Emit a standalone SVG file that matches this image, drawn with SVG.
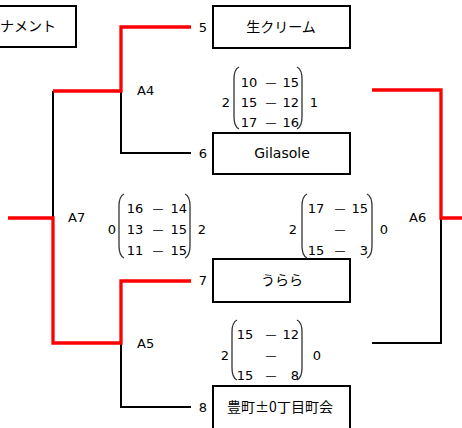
<svg xmlns="http://www.w3.org/2000/svg" width="462" height="428" viewBox="0 0 462 428">
<style>
.box{fill:#fff;stroke:#000;stroke-width:2}
.red{fill:none;stroke:#f00;stroke-width:3.3}
.blk{fill:none;stroke:#000;stroke-width:2}
.par{fill:none;stroke:#333;stroke-width:1.3}
.t{font-family:"DejaVu Sans","Noto Sans CJK JP",sans-serif;font-size:13px;fill:#000}
.j{font-family:"Noto Sans CJK JP",sans-serif;font-size:14px;fill:#000}
.m{text-anchor:middle}
.e{text-anchor:end}
.d{font-family:"DejaVu Sans",sans-serif;font-size:11px;text-anchor:middle}
</style>
<rect width="462" height="428" fill="#fff"/>
<g id="connectors">
<path class="blk" d="M121,91 V153 H191"/>
<path class="blk" d="M53,91 V218"/>
<path class="blk" d="M121,343 V407 H191"/>
<path class="blk" d="M441,218 V343 H372"/>
<path class="red" d="M191,27 H121 V91 H53"/>
<path class="red" d="M8,218 H53 V343 H121 V281 H191"/>
<path class="red" d="M372,90 H441 V218 H462"/>
</g>
<g id="title">
<rect class="box" x="-10" y="6" width="86" height="41"/>
<text class="j" x="0" y="31">ナメント</text>
</g>
<g id="team5">
<text class="t m" x="203" y="32">5</text>
<rect class="box" x="213" y="6" width="137" height="42"/>
<text class="j m" x="281" y="32">生クリーム</text>
</g>
<g id="team6">
<text class="t m" x="203" y="158">6</text>
<rect class="box" x="213" y="133" width="137" height="41"/>
<text class="t m" x="282" y="158" style="font-size:14px">Gilasole</text>
</g>
<g id="team7">
<text class="t m" x="203" y="285">7</text>
<rect class="box" x="213" y="259" width="137" height="43"/>
<text class="j m" x="282" y="285">うらら</text>
</g>
<g id="team8">
<text class="t m" x="203" y="412">8</text>
<rect class="box" x="213" y="386" width="137" height="50"/>
<text class="j m" x="280" y="412">豊町±0丁目町会</text>
</g>
<g id="labels">
<text class="t" x="137" y="95">A4</text>
<text class="t" x="68" y="222">A7</text>
<text class="t" x="137" y="348">A5</text>
<text class="t" x="409" y="222">A6</text>
</g>
<g id="scoreA4">
<text class="t m" x="226" y="107">2</text>
<path class="par" d="M239,67 C235,69 234,73 234,79 V117 C234,123 235,127 239,129"/>
<path class="par" d="M297,67 C301,69 302,73 302,79 V117 C302,123 301,127 297,129"/>
<text class="t m" x="249" y="87">10</text><text class="d" x="271" y="86">—</text><text class="t e" x="299" y="87">15</text>
<text class="t m" x="249" y="107">15</text><text class="d" x="271" y="106">—</text><text class="t e" x="299" y="107">12</text>
<text class="t m" x="249" y="127">17</text><text class="d" x="271" y="126">—</text><text class="t e" x="299" y="127">16</text>
<text class="t m" x="314" y="107">1</text>
</g>
<g id="scoreA7">
<text class="t m" x="112" y="234">0</text>
<path class="par" d="M124,194 C120,196 119,200 119,206 V246 C119,252 120,256 124,258"/>
<path class="par" d="M185,194 C189,196 190,200 190,206 V246 C190,252 189,256 185,258"/>
<text class="t m" x="135" y="213">16</text><text class="d" x="158" y="212">—</text><text class="t e" x="187" y="213">14</text>
<text class="t m" x="135" y="234">13</text><text class="d" x="158" y="233">—</text><text class="t e" x="187" y="234">15</text>
<text class="t m" x="135" y="255">11</text><text class="d" x="158" y="254">—</text><text class="t e" x="187" y="255">15</text>
<text class="t m" x="202" y="234">2</text>
</g>
<g id="scoreA6">
<text class="t m" x="293" y="234">2</text>
<path class="par" d="M307,194 C303,196 302,200 302,206 V246 C302,252 303,256 307,258"/>
<path class="par" d="M367,194 C371,196 372,200 372,206 V246 C372,252 371,256 367,258"/>
<text class="t m" x="316" y="213">17</text><text class="d" x="340" y="212">—</text><text class="t e" x="368" y="213">15</text>
<text class="d" x="340" y="233">—</text>
<text class="t m" x="316" y="255">15</text><text class="d" x="340" y="254">—</text><text class="t e" x="368" y="255">3</text>
<text class="t m" x="384" y="234">0</text>
</g>
<g id="scoreA5">
<text class="t m" x="225" y="360">2</text>
<path class="par" d="M237,320 C233,322 232,326 232,332 V368 C232,374 233,378 237,380"/>
<path class="par" d="M297,320 C301,322 302,326 302,332 V368 C302,374 301,378 297,380"/>
<text class="t m" x="245" y="339">15</text><text class="d" x="271" y="338">—</text><text class="t e" x="299" y="339">12</text>
<text class="d" x="271" y="359">—</text>
<text class="t m" x="245" y="380">15</text><text class="d" x="271" y="379">—</text><text class="t e" x="299" y="380">8</text>
<text class="t m" x="317" y="360">0</text>
</g>
</svg>
